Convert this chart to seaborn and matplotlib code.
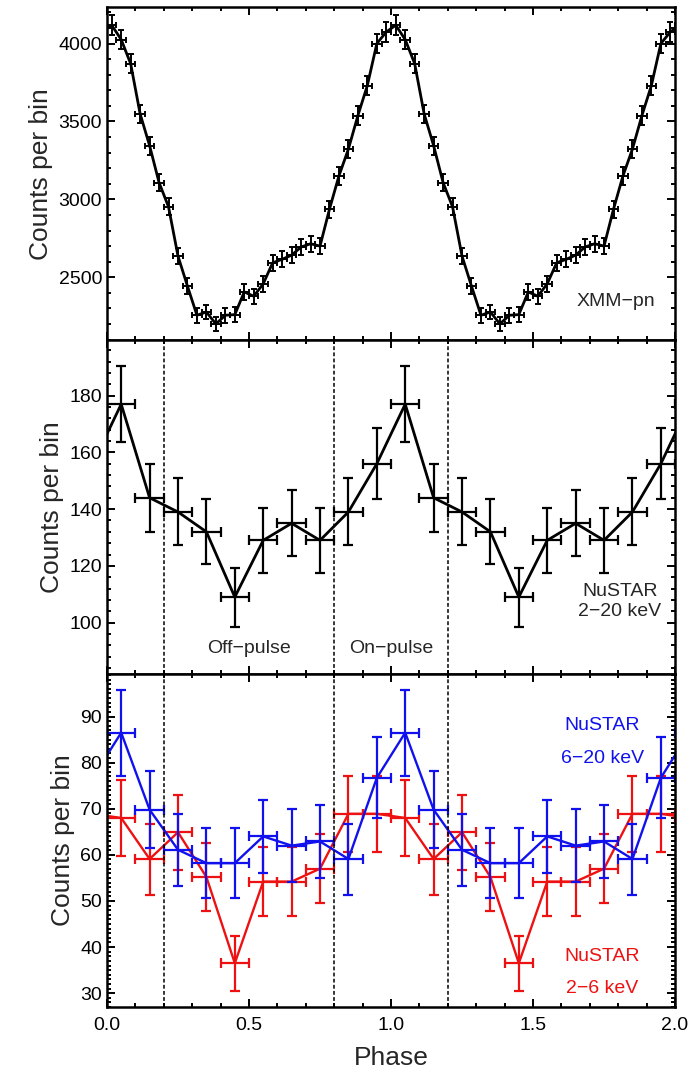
import numpy as np
import matplotlib
matplotlib.use("Agg")
import matplotlib.pyplot as plt
from matplotlib.ticker import MultipleLocator, FormatStrFormatter
import seaborn as sns

# XMM-pn pulse profile, 30 bins per cycle
xmm_counts = [4118, 4026, 3871, 3549, 3345, 3108, 2952, 2636, 2443, 2256,
              2277, 2200, 2256, 2260, 2406, 2378, 2458, 2593, 2615, 2642,
              2694, 2715, 2700, 2937, 3151, 3323, 3538, 3731, 4000, 4075]
xmm_err = [64, 63, 62, 60, 58, 56, 54, 51, 49, 47,
           48, 47, 47, 48, 49, 49, 50, 51, 51, 51,
           52, 52, 52, 54, 56, 58, 59, 61, 63, 64]

# NuSTAR profiles, 10 bins per cycle
nu_all = [177, 144, 139, 132, 109, 129, 135, 129, 139, 156]
nu_all_err = [13.3, 12.0, 11.8, 11.5, 10.4, 11.4, 11.6, 11.4, 11.8, 12.5]
nu_hard = [86.5, 69.8, 61.1, 58.2, 58.2, 64.0, 62.0, 62.9, 59.1, 76.7]
nu_hard_err = [9.3, 8.4, 7.8, 7.6, 7.6, 8.0, 7.9, 7.9, 7.7, 8.8]
nu_soft = [68.0, 59.1, 64.9, 55.2, 36.5, 54.2, 54.2, 57.0, 68.9, 68.9]
nu_soft_err = [8.2, 7.7, 8.1, 7.4, 6.0, 7.4, 7.4, 7.5, 8.3, 8.3]

region_edges = [0.2, 0.8, 1.2]

sns.set_style("ticks")
plt.rcParams['font.family'] = ['Liberation Sans', 'DejaVu Sans']
plt.rcParams['axes.linewidth'] = 1.8
plt.rcParams['xtick.direction'] = 'in'
plt.rcParams['ytick.direction'] = 'in'


def two_cycles(vals, errs):
    # repeat one cycle twice, plus one wrap point on each side (clipped by xlim)
    n = len(vals)
    v = np.array(vals, dtype=float)
    e = np.array(errs, dtype=float)
    phase = (np.arange(-1, 2 * n + 1) + 0.5) / n
    v2 = np.concatenate([v[-1:], v, v, v[:1]])
    e2 = np.concatenate([e[-1:], e, e, e[:1]])
    return phase, v2, e2, 0.5 / n


def draw(ax, vals, errs, color, lw, elw, cap):
    ph, v, e, hw = two_cycles(vals, errs)
    sns.lineplot(x=ph, y=v, color=color, lw=lw, ax=ax, sort=False,
                 estimator=None)
    ax.errorbar(ph, v, yerr=e, xerr=hw, fmt='none', ecolor=color,
                elinewidth=elw, capsize=cap, capthick=elw)


def style(ax, major, minor):
    ax.set_xlim(0, 2)
    ax.xaxis.set_major_locator(MultipleLocator(0.5))
    ax.xaxis.set_minor_locator(MultipleLocator(0.1))
    ax.yaxis.set_major_locator(MultipleLocator(major))
    ax.yaxis.set_minor_locator(MultipleLocator(minor))
    ax.tick_params(which='both', top=True, right=True, labelsize=14,
                   width=1.4, colors='black')
    ax.tick_params(which='major', length=6)
    ax.tick_params(which='minor', length=3)
    ax.tick_params(axis='x', pad=7)
    ax.set_ylabel("Counts per bin", fontsize=19, labelpad=4)
    for s in ax.spines.values():
        s.set_color('black')


fig = plt.figure(figsize=(6.97, 10.77), dpi=100)
gs = fig.add_gridspec(3, 1, left=0.1535, right=0.9685, top=0.9935,
                      bottom=0.065, hspace=0)
ax1 = fig.add_subplot(gs[0])
ax2 = fig.add_subplot(gs[1], sharex=ax1)
ax3 = fig.add_subplot(gs[2], sharex=ax1)

# top: XMM-pn
draw(ax1, xmm_counts, xmm_err, 'black', 2.0, 1.4, 2.4)
style(ax1, 500, 100)
ax1.set_ylim(2095, 4235)
ax1.text(1.79, 2346, "XMM−pn", fontsize=14, ha='center', va='center')

# middle: NuSTAR 2-20 keV
draw(ax2, nu_all, nu_all_err, 'black', 2.0, 1.6, 3.5)
style(ax2, 20, 4)
ax2.set_ylim(82, 199.5)
for x in region_edges:
    ax2.axvline(x, color='black', ls=(0, (2.5, 1.5)), lw=1.1)
ax2.text(0.5, 91, "Off−pulse", fontsize=14, ha='center', va='center')
ax2.text(1.0, 91, "On−pulse", fontsize=14, ha='center', va='center')
ax2.text(1.805, 111, "NuSTAR", fontsize=14, ha='center', va='center')
ax2.text(1.805, 104, "2−20 keV", fontsize=14, ha='center', va='center')

# bottom: NuSTAR soft / hard
draw(ax3, nu_soft, nu_soft_err, '#ee1111', 1.7, 1.6, 3.5)
draw(ax3, nu_hard, nu_hard_err, '#1111ee', 1.7, 1.6, 3.5)
style(ax3, 10, 1)
ax3.set_ylim(27, 99.3)
for x in region_edges:
    ax3.axvline(x, color='black', ls=(0, (2.5, 1.5)), lw=1.1)
ax3.text(1.745, 88.0, "NuSTAR", fontsize=14, color='#1111ee', ha='center', va='center')
ax3.text(1.745, 81.0, "6−20 keV", fontsize=14, color='#1111ee', ha='center', va='center')
ax3.text(1.745, 38.0, "NuSTAR", fontsize=14, color='#ee1111', ha='center', va='center')
ax3.text(1.745, 31.0, "2−6 keV", fontsize=14, color='#ee1111', ha='center', va='center')
ax3.set_xlabel("Phase", fontsize=19, labelpad=9)
ax3.xaxis.set_major_formatter(FormatStrFormatter('%.1f'))

plt.setp(ax1.get_xticklabels(), visible=False)
plt.setp(ax2.get_xticklabels(), visible=False)

fig.savefig("out.png", dpi=100)
